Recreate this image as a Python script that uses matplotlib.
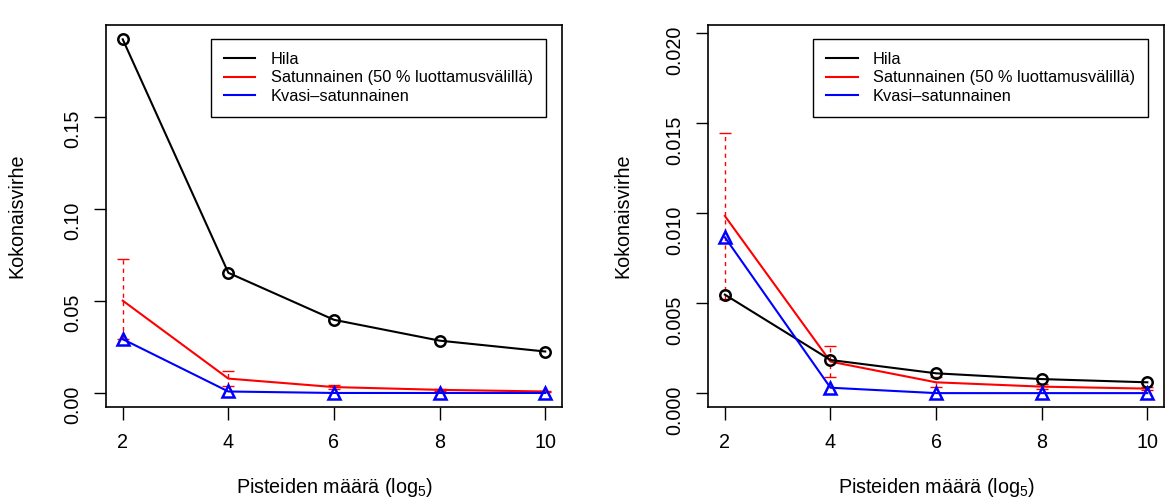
import numpy as np
import matplotlib.pyplot as plt

plt.rcParams['font.family'] = ['Liberation Sans', 'DejaVu Sans']
plt.rcParams['mathtext.fontset'] = 'custom'
plt.rcParams['mathtext.rm'] = 'Liberation Sans'
plt.rcParams['mathtext.it'] = 'Liberation Sans:italic'

x = [2, 4, 6, 8, 10]

# vasen kuva
hila_1 = [0.1920, 0.0653, 0.0398, 0.0285, 0.0226]
sat_1 = [0.0502, 0.0079, 0.0033, 0.0018, 0.0009]
sat_lo_1 = [0.0295, 0.0040, 0.0025, 0.0013, 0.0007]
sat_hi_1 = [0.0730, 0.0121, 0.0045, 0.0024, 0.0012]
kvasi_1 = [0.0293, 0.0009, 0.0001, 0.0001, 0.0001]

# oikea kuva
hila_2 = [0.00548, 0.00185, 0.00111, 0.00079, 0.00061]
sat_2 = [0.00985, 0.00176, 0.00061, 0.00037, 0.00026]
sat_lo_2 = [0.00524, 0.00089, 0.00037, 0.00025, 0.00020]
sat_hi_2 = [0.01444, 0.00265, 0.00092, 0.00050, 0.00035]
kvasi_2 = [0.00867, 0.00031, 0.00001, 0.00001, 0.00001]

yticks_1 = [0.00, 0.05, 0.10, 0.15]
yticks_2 = [0.000, 0.005, 0.010, 0.015, 0.020]

labels = ['Hila', 'Satunnainen (50 % luottamusvälillä)', 'Kvasi\u2013satunnainen']

fig = plt.figure(figsize=(11.76, 5.04), dpi=100)


def panel(left, hila, sat, lo, hi, kvasi, yticks, fmt, ylim, ylab_x):
    ax = fig.add_axes([left, 0.1925, 0.388, 0.758])
    h1, = ax.plot(x, hila, color='black', lw=1.5, marker='o', ms=7.5,
                  mfc='none', mew=1.8, zorder=3)
    h2, = ax.plot(x, sat, color='red', lw=1.5, zorder=2)
    yerr = [np.array(sat) - np.array(lo), np.array(hi) - np.array(sat)]
    eb = ax.errorbar(x, sat, yerr=yerr, fmt='none', ecolor='red', elinewidth=1,
                     capsize=4.3, capthick=1, zorder=2.5)
    for c in eb[2]:
        c.set_linestyle((0, (3, 3)))
    h3, = ax.plot(x, kvasi, color='blue', lw=1.5, marker='^', ms=9,
                  mfc='none', mew=1.8, zorder=4)

    ax.set_xlim(1.68, 10.32)
    ax.set_ylim(*ylim)
    ax.set_xticks(x)
    ax.set_yticks(yticks)
    ax.set_yticklabels([fmt.format(v) for v in yticks])
    ax.tick_params(axis='both', direction='out', length=9, width=1, labelsize=14.2)
    ax.tick_params(axis='x', pad=10)
    ax.tick_params(axis='y', pad=7.8, labelrotation=90)
    for s in ax.spines.values():
        s.set_linewidth(1.2)

    ax.set_xlabel('Pisteiden määrä (log$_5$)', fontsize=14.2)
    ax.set_ylabel('Kokonaisvirhe', fontsize=14.2)
    ax.xaxis.set_label_coords(0.5, -0.18)
    ax.yaxis.set_label_coords(ylab_x, 0.5)

    leg = ax.legend([h1, h2, h3], labels, loc='upper right',
                    bbox_to_anchor=(1 - 16 / 456, 1 - 14 / 382), borderaxespad=0,
                    fontsize=11.8, frameon=True, fancybox=False, framealpha=1,
                    handlelength=1.9, handletextpad=0.95, labelspacing=0.2,
                    borderpad=0.8)
    leg.get_frame().set_edgecolor('black')
    leg.get_frame().set_linewidth(1.0)
    for l in leg.get_lines():
        l.set_marker('None')
    return ax


panel(0.090, hila_1, sat_1, sat_lo_1, sat_hi_1, kvasi_1, yticks_1, '{:.2f}',
      (-0.0075, 0.1998), -0.175)
panel(0.602, hila_2, sat_2, sat_lo_2, sat_hi_2, kvasi_2, yticks_2, '{:.3f}',
      (-0.00076, 0.02046), -0.165)

fig.savefig('out.png', dpi=100)
